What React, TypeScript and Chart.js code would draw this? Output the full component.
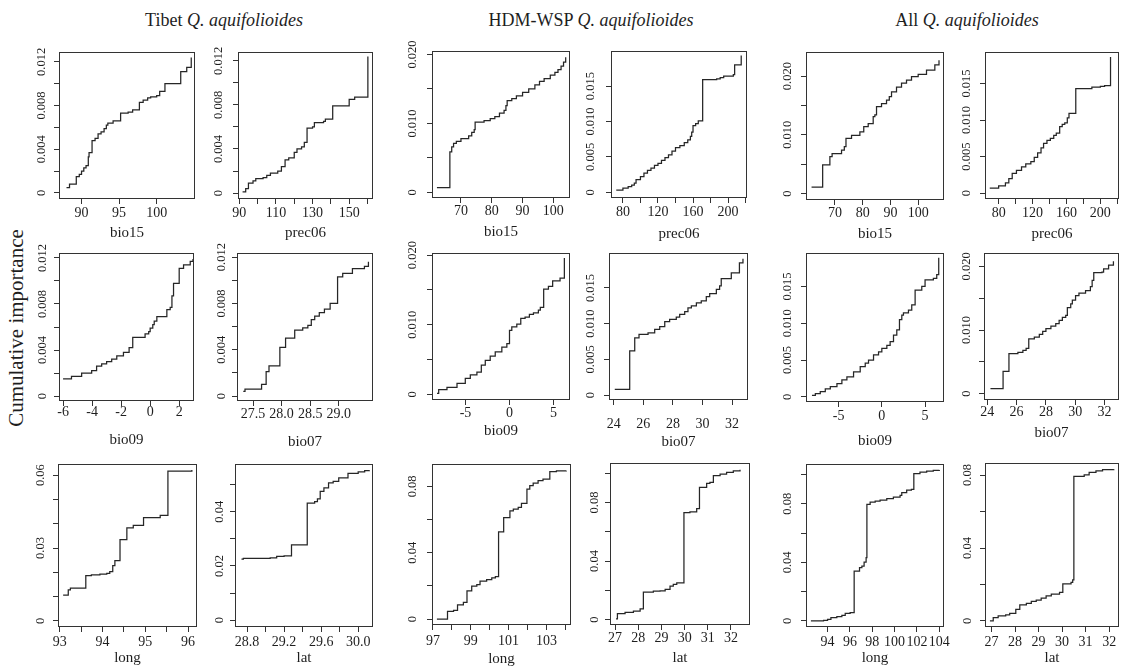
import React, { useEffect, useRef } from 'react';
import { Chart, registerables } from 'chart.js';

Chart.register(...registerables);

type Pt = [number, number];

// ---------------- series (x value where the step occurs, cumulative importance) ----------------
const tibetBio15: Pt[] = [[88.0,0.0005],[88.4,0.0008],[89.3,0.0015],[89.7,0.0017],[90.0,0.0020],[90.3,0.0023],[90.6,0.0025],[90.9,0.0033],[91.0,0.0037],[91.4,0.0048],[91.8,0.0050],[92.2,0.0054],[92.6,0.0056],[93.0,0.0059],[93.3,0.0062],[93.5,0.0064],[94.2,0.0066],[95.2,0.0073],[96.2,0.0074],[96.8,0.0076],[97.7,0.0083],[98.2,0.0085],[98.8,0.0087],[99.2,0.0088],[100.0,0.0089],[100.4,0.0093],[101.1,0.0100],[103.2,0.0111],[104.0,0.0115],[104.6,0.0124]];
const tibetPrec06: Pt[] = [[91.8,0.0001],[93.5,0.0004],[95,0.0009],[97.5,0.0011],[99,0.0013],[103,0.0014],[105,0.0016],[107,0.0018],[111,0.0020],[113,0.0024],[115,0.0030],[117,0.0032],[120,0.0037],[121.5,0.0040],[124,0.0042],[125.5,0.0046],[127,0.0059],[130,0.0060],[131,0.0064],[136,0.0065],[137,0.0067],[141,0.0079],[150,0.0085],[153,0.0087],[160.2,0.0124]];
const hdmBio15: Pt[] = [[62.2,0.0007],[66.4,0.0059],[67.0,0.0066],[67.6,0.0071],[68.5,0.0074],[70.0,0.0078],[72.5,0.0082],[73.5,0.0087],[74.3,0.0091],[74.6,0.0102],[77.5,0.0104],[79.5,0.0107],[81.0,0.0110],[82.5,0.0115],[84.0,0.0119],[84.6,0.0126],[85.0,0.0133],[86.5,0.0136],[88.0,0.0140],[90.0,0.0145],[92.0,0.0150],[94.0,0.0156],[95.5,0.0161],[97.0,0.0165],[99.0,0.0170],[100.5,0.0174],[101.5,0.0178],[102.5,0.0183],[103.3,0.0189],[104.0,0.0196]];
const hdmPrec06: Pt[] = [[72.4,0.0003],[80,0.0006],[86,0.0008],[90,0.0010],[93,0.0013],[95,0.0018],[100,0.0022],[104,0.0027],[108,0.0031],[112,0.0034],[116,0.0038],[120,0.0041],[124,0.0045],[128,0.0049],[132,0.0053],[136,0.0058],[140,0.0063],[145,0.0066],[150,0.0070],[154,0.0074],[157,0.0079],[158.5,0.0085],[160,0.0094],[163,0.0097],[166,0.0101],[171,0.0159],[187,0.0160],[191,0.0162],[195,0.0164],[206,0.0166],[207.5,0.0180],[215,0.0193]];
const allBio15: Pt[] = [[61.6,0.0011],[65.6,0.0049],[68.2,0.0063],[69.0,0.0068],[72.4,0.0074],[73.4,0.0080],[74.0,0.0094],[76.0,0.0099],[79.0,0.0105],[80.4,0.0114],[82.0,0.0119],[83.8,0.0131],[84.4,0.0134],[85.0,0.0148],[86.8,0.0153],[88.6,0.0159],[89.6,0.0165],[90.4,0.0173],[92.2,0.0181],[94.0,0.0188],[95.8,0.0193],[97.6,0.0199],[100.0,0.0203],[103.0,0.0210],[106.0,0.0219],[107.5,0.0227]];
const allPrec06: Pt[] = [[69.5,0.0007],[80,0.0010],[88,0.0014],[92,0.0020],[96,0.0027],[101,0.0031],[107,0.0036],[112,0.0040],[118,0.0043],[122,0.0049],[126,0.0055],[130,0.0062],[133,0.0068],[137,0.0072],[141,0.0075],[145,0.0079],[148,0.0082],[152,0.0091],[155,0.0094],[158,0.0096],[161,0.0103],[163,0.0109],[171,0.0143],[190,0.0145],[200,0.0146],[205,0.0147],[212,0.0186]];

const tibetBio09: Pt[] = [[-6.0,0.0015],[-5.42,0.0017],[-4.72,0.0020],[-4.03,0.0022],[-3.69,0.0026],[-3.34,0.0028],[-3.0,0.0030],[-2.65,0.0032],[-2.3,0.0035],[-1.84,0.0038],[-1.45,0.0042],[-1.2,0.0051],[-0.35,0.0054],[-0.1,0.0056],[0.0,0.0059],[0.18,0.0062],[0.28,0.0065],[0.46,0.0069],[1.15,0.0075],[1.38,0.0077],[1.5,0.0087],[1.61,0.0098],[2.0,0.0111],[2.3,0.0114],[2.76,0.0117],[2.95,0.0119]];
const tibetBio07: Pt[] = [[27.33,0.0004],[27.36,0.0006],[27.65,0.0010],[27.73,0.0021],[27.78,0.0026],[27.97,0.0042],[28.07,0.0050],[28.23,0.0057],[28.37,0.0059],[28.46,0.0061],[28.52,0.0066],[28.58,0.0069],[28.66,0.0072],[28.75,0.0075],[28.85,0.0080],[28.98,0.0103],[29.07,0.0106],[29.24,0.0110],[29.45,0.0112],[29.52,0.0116]];
const hdmBio09: Pt[] = [[-8.23,0.00014],[-8.04,0.0007],[-7.1,0.0010],[-5.96,0.0016],[-5.02,0.0023],[-4.45,0.0028],[-3.7,0.0032],[-3.2,0.0042],[-2.75,0.0049],[-2.19,0.0055],[-1.62,0.0061],[-0.87,0.0068],[-0.3,0.0073],[0.0,0.0092],[0.26,0.0097],[0.83,0.0101],[1.28,0.0109],[1.77,0.0111],[2.26,0.0115],[2.72,0.0117],[3.28,0.0121],[3.5,0.0125],[3.88,0.0151],[4.42,0.0155],[4.9,0.0163],[5.74,0.0167],[6.23,0.0196]];
const hdmBio07: Pt[] = [[24.07,0.0008],[25.08,0.0062],[25.42,0.0080],[25.71,0.0085],[26.32,0.0087],[26.77,0.0092],[27.11,0.0096],[27.45,0.0103],[27.78,0.0106],[28.23,0.0109],[28.46,0.0113],[28.8,0.0117],[29.02,0.0122],[29.25,0.0125],[29.59,0.0129],[29.92,0.0132],[30.26,0.0138],[30.49,0.0142],[30.94,0.0148],[31.16,0.0153],[31.27,0.0163],[31.95,0.0171],[32.5,0.0185],[32.74,0.0191]];
const allBio09: Pt[] = [[-8.08,0.0002],[-7.69,0.00045],[-7.12,0.0007],[-6.54,0.0011],[-5.96,0.0014],[-5.19,0.0018],[-4.62,0.0023],[-4.04,0.0027],[-3.27,0.0034],[-2.5,0.0041],[-1.92,0.0046],[-1.54,0.0050],[-0.96,0.0057],[-0.38,0.0061],[0.0,0.0066],[0.58,0.0070],[0.96,0.0075],[1.35,0.0084],[1.73,0.0091],[2.04,0.0105],[2.31,0.0111],[2.5,0.0114],[3.08,0.0118],[3.46,0.0125],[3.85,0.0145],[4.62,0.0150],[5.0,0.0159],[5.96,0.0161],[6.35,0.0166],[6.58,0.0189]];
const allBio07: Pt[] = [[24.22,0.0008],[25.08,0.0035],[25.48,0.0063],[26.09,0.0065],[26.43,0.0068],[26.65,0.0071],[26.83,0.0086],[27.21,0.0089],[27.55,0.0093],[27.78,0.0098],[28.0,0.0102],[28.34,0.0106],[28.67,0.0110],[28.9,0.0115],[29.12,0.0120],[29.35,0.0123],[29.46,0.0135],[29.69,0.0141],[29.8,0.0147],[30.02,0.0154],[30.25,0.0158],[30.7,0.0162],[31.03,0.0168],[31.15,0.0178],[31.26,0.0190],[31.82,0.0191],[31.93,0.0196],[32.27,0.0202],[32.6,0.0208]];

const tibetLong: Pt[] = [[93.08,0.0106],[93.2,0.0128],[93.25,0.0135],[93.61,0.0186],[93.74,0.0190],[93.94,0.0193],[94.1,0.0196],[94.17,0.0203],[94.24,0.0228],[94.29,0.0248],[94.41,0.0335],[94.57,0.0383],[94.72,0.0393],[94.96,0.0425],[95.35,0.0434],[95.53,0.0617],[96.09,0.0621]];
const tibetLat: Pt[] = [[28.74,0.0225],[28.76,0.0228],[29.05,0.0230],[29.12,0.0235],[29.2,0.0237],[29.28,0.0278],[29.45,0.0432],[29.53,0.0437],[29.56,0.0447],[29.59,0.0475],[29.63,0.0488],[29.68,0.0506],[29.73,0.0512],[29.79,0.0525],[29.89,0.0541],[30.0,0.0547],[30.07,0.0552],[30.12,0.0553]];
const hdmLong: Pt[] = [[97.21,0.0],[97.77,0.0046],[98.09,0.0052],[98.3,0.0085],[98.61,0.0101],[98.8,0.0170],[99.05,0.0198],[99.32,0.0208],[99.49,0.0228],[99.84,0.0238],[100.11,0.0248],[100.3,0.0255],[100.47,0.0525],[100.74,0.0612],[101.07,0.0653],[101.25,0.0663],[101.51,0.0673],[101.68,0.0697],[101.97,0.0784],[102.12,0.0804],[102.3,0.0820],[102.56,0.0834],[102.82,0.0844],[103.18,0.0889],[103.53,0.0893],[104.05,0.0895]];
const hdmLat: Pt[] = [[27.04,0.0005],[27.1,0.0041],[27.43,0.0050],[27.79,0.0057],[28.08,0.0073],[28.22,0.0187],[28.65,0.0194],[28.94,0.0197],[29.16,0.0206],[29.37,0.0229],[29.51,0.0240],[29.66,0.0251],[29.97,0.0731],[30.23,0.0736],[30.52,0.0759],[30.64,0.0903],[30.95,0.0930],[31.09,0.0937],[31.24,0.0983],[31.53,0.0994],[31.81,0.1006],[32.1,0.1017],[32.39,0.1024]];
const allLong: Pt[] = [[92.51,0.0],[93.64,0.0005],[94.0,0.0011],[94.3,0.0023],[94.83,0.0030],[95.28,0.0039],[95.58,0.0052],[96.02,0.0057],[96.38,0.0341],[96.86,0.0364],[97.07,0.0375],[97.27,0.0402],[97.45,0.0432],[97.52,0.0795],[97.81,0.0811],[98.26,0.0818],[98.7,0.0825],[99.3,0.0834],[99.89,0.0845],[100.49,0.0857],[100.64,0.0875],[101.08,0.0893],[101.5,0.0898],[101.72,0.1005],[102.27,0.1016],[102.87,0.1023],[103.46,0.1027],[104.0,0.1030]];
const allLat: Pt[] = [[26.93,0.0],[27.07,0.0018],[27.28,0.0028],[27.6,0.0033],[27.77,0.0042],[28.03,0.0064],[28.2,0.0088],[28.48,0.0096],[28.69,0.0107],[28.9,0.0114],[29.11,0.0125],[29.32,0.0138],[29.54,0.0147],[29.89,0.0157],[30.03,0.0203],[30.38,0.0212],[30.45,0.0225],[30.5,0.0792],[30.94,0.0801],[31.15,0.0814],[31.44,0.0823],[31.72,0.0829],[32.2,0.0832]];

// ---------------- tick values and tick labels ----------------
const yTicks012 = [0, 0.002, 0.004, 0.006, 0.008, 0.01, 0.012];
const yLabels012 = ['0', '', '0.004', '', '0.008', '', '0.012'];
const yTicks020 = [0, 0.005, 0.01, 0.015, 0.02];
const yLabels020 = ['0', '', '0.010', '', '0.020'];
const yTicks015 = [0, 0.005, 0.01, 0.015];
const yLabels015 = ['0', '0.005', '0.010', '0.015'];
const yTicks06 = [0, 0.01, 0.02, 0.03, 0.04, 0.05, 0.06];
const yLabels06 = ['0', '', '', '0.03', '', '', '0.06'];
const yTicks05 = [0, 0.01, 0.02, 0.03, 0.04, 0.05];
const yLabels05 = ['0', '', '0.02', '', '0.04', ''];
const yTicks08 = [0, 0.02, 0.04, 0.06, 0.08];
const yLabels08 = ['0', '', '0.04', '', '0.08'];
const yTicks10 = [0, 0.02, 0.04, 0.06, 0.08, 0.1];
const yLabels10 = ['0', '', '0.04', '', '0.08', ''];

const xTicksTibetBio15 = [90, 95, 100];
const xLabelsTibetBio15 = ['90', '95', '100'];
const xTicksTibetPrec06 = [90, 100, 110, 120, 130, 140, 150, 160];
const xLabelsTibetPrec06 = ['90', '', '110', '', '130', '', '150', ''];
const xTicksBio15 = [70, 80, 90, 100];
const xLabelsBio15 = ['70', '80', '90', '100'];
const xTicksPrec06 = [80, 100, 120, 140, 160, 180, 200, 220];
const xLabelsPrec06 = ['80', '', '120', '', '160', '', '200', ''];
const xTicksTibetBio09 = [-6, -4, -2, 0, 2];
const xLabelsTibetBio09 = ['-6', '-4', '-2', '0', '2'];
const xTicksTibetBio07 = [27.5, 28, 28.5, 29];
const xLabelsTibetBio07 = ['27.5', '28.0', '28.5', '29.0'];
const xTicksBio09 = [-5, 0, 5];
const xLabelsBio09 = ['-5', '0', '5'];
const xTicksBio07 = [24, 26, 28, 30, 32];
const xLabelsBio07 = ['24', '26', '28', '30', '32'];
const xTicksTibetLong = [93, 93.5, 94, 94.5, 95, 95.5, 96];
const xLabelsTibetLong = ['93', '', '94', '', '95', '', '96'];
const xTicksTibetLat = [28.8, 29.0, 29.2, 29.4, 29.6, 29.8, 30.0];
const xLabelsTibetLat = ['28.8', '', '29.2', '', '29.6', '', '30.0'];
const xTicksHdmLong = [97, 98, 99, 100, 101, 102, 103, 104];
const xLabelsHdmLong = ['97', '', '99', '', '101', '', '103', ''];
const xTicksLat = [27, 28, 29, 30, 31, 32];
const xLabelsLat = ['27', '28', '29', '30', '31', '32'];
const xTicksAllLong = [94, 96, 98, 100, 102, 104];
const xLabelsAllLong = ['94', '96', '98', '100', '102', '104'];

// ---------------- layout / style ----------------
const FAMILY = "'Liberation Serif', 'Times New Roman', serif";
const TEXT = '#1e1e1e';
const LINE = '#262626';
const FRAME = '#333333';
const L = 32, T = 14, R = 14, TICK_LEN = 5;
const X_TICK_SIZE = 14, Y_TICK_SIZE = 12.5, X_TITLE_SIZE = 15;

interface PanelSpec {
  data: Pt[]; xName: string;
  box: [number, number, number, number];
  xRange: [number, number]; yRange: [number, number];
  xTicks: number[]; xLabels: string[]; yTicks: number[]; yLabels: string[];
  xTickY: number; xNameY: number; yLabOff: number;
}

const panels: PanelSpec[] = [
  { data: tibetBio15, xName: 'bio15', box: [59, 52, 195, 199], xRange: [87.0, 105.1], yRange: [-0.00055, 0.0129], xTicks: xTicksTibetBio15, xLabels: xLabelsTibetBio15, yTicks: yTicks012, yLabels: yLabels012, xTickY: 213, xNameY: 233, yLabOff: 17 },
  { data: tibetPrec06, xName: 'prec06', box: [238, 52, 373, 199], xRange: [89.3, 163], yRange: [-0.00054, 0.0128], xTicks: xTicksTibetPrec06, xLabels: xLabelsTibetPrec06, yTicks: yTicks012, yLabels: yLabels012, xTickY: 213, xNameY: 233, yLabOff: 19 },
  { data: hdmBio15, xName: 'bio15', box: [432, 51, 570, 198], xRange: [60.6, 105.4], yRange: [-0.0008, 0.0205], xTicks: xTicksBio15, xLabels: xLabelsBio15, yTicks: yTicks020, yLabels: yLabels020, xTickY: 211, xNameY: 232, yLabOff: 19 },
  { data: hdmPrec06, xName: 'prec06', box: [611, 51, 747, 198], xRange: [66.4, 221.6], yRange: [-0.0008, 0.01995], xTicks: xTicksPrec06, xLabels: xLabelsPrec06, yTicks: yTicks015, yLabels: yLabels015, xTickY: 212, xNameY: 234, yLabOff: 20 },
  { data: allBio15, xName: 'bio15', box: [806, 52, 944, 200], xRange: [59.6, 109.3], yRange: [-0.0011, 0.0241], xTicks: xTicksBio15, xLabels: xLabelsBio15, yTicks: yTicks020, yLabels: yLabels020, xTickY: 213, xNameY: 234, yLabOff: 18 },
  { data: allPrec06, xName: 'prec06', box: [985, 52, 1119, 199], xRange: [63.9, 222], yRange: [-0.0008, 0.0193], xTicks: xTicksPrec06, xLabels: xLabelsPrec06, yTicks: yTicks015, yLabels: yLabels015, xTickY: 213, xNameY: 234, yLabOff: 18 },

  { data: tibetBio09, xName: 'bio09', box: [59, 253, 194, 401], xRange: [-6.28, 3.02], yRange: [-0.00043, 0.01243], xTicks: xTicksTibetBio09, xLabels: xLabelsTibetBio09, yTicks: yTicks012, yLabels: yLabels012, xTickY: 412, xNameY: 440, yLabOff: 16 },
  { data: tibetBio07, xName: 'bio07', box: [237, 253, 373, 401], xRange: [27.22, 29.6], yRange: [-0.00043, 0.01236], xTicks: xTicksTibetBio07, xLabels: xLabelsTibetBio07, yTicks: yTicks012, yLabels: yLabels012, xTickY: 414, xNameY: 442, yLabOff: 15 },
  { data: hdmBio09, xName: 'bio09', box: [432, 253, 570, 400], xRange: [-8.8, 6.87], yRange: [-0.0008, 0.0203], xTicks: xTicksBio09, xLabels: xLabelsBio09, yTicks: yTicks020, yLabels: yLabels020, xTickY: 413, xNameY: 431, yLabOff: 19 },
  { data: hdmBio07, xName: 'bio07', box: [609, 253, 748, 400], xRange: [23.68, 33.08], yRange: [-0.0007, 0.0199], xTicks: xTicksBio07, xLabels: xLabelsBio07, yTicks: yTicks015, yLabels: yLabels015, xTickY: 424, xNameY: 442, yLabOff: 18 },
  { data: allBio09, xName: 'bio09', box: [806, 253, 944, 402], xRange: [-8.77, 7.19], yRange: [-0.0007, 0.01955], xTicks: xTicksBio09, xLabels: xLabelsBio09, yTicks: yTicks015, yLabels: yLabels015, xTickY: 416, xNameY: 441, yLabOff: 18 },
  { data: allBio07, xName: 'bio07', box: [984, 253, 1119, 400], xRange: [23.78, 32.98], yRange: [-0.001, 0.0221], xTicks: xTicksBio07, xLabels: xLabelsBio07, yTicks: yTicks020, yLabels: yLabels020, xTickY: 412, xNameY: 433, yLabOff: 17 },

  { data: tibetLong, xName: 'long', box: [58, 464, 197, 627], xRange: [92.96, 96.21], yRange: [-0.0025, 0.0646], xTicks: xTicksTibetLong, xLabels: xLabelsTibetLong, yTicks: yTicks06, yLabels: yLabels06, xTickY: 642, xNameY: 658, yLabOff: 17 },
  { data: tibetLat, xName: 'lat', box: [235, 464, 373, 627], xRange: [28.67, 30.16], yRange: [-0.0025, 0.0576], xTicks: xTicksTibetLat, xLabels: xLabelsTibetLat, yTicks: yTicks05, yLabels: yLabels05, xTickY: 642, xNameY: 658, yLabOff: 15 },
  { data: hdmLong, xName: 'long', box: [432, 464, 571, 625], xRange: [96.95, 104.3], yRange: [-0.0036, 0.0935], xTicks: xTicksHdmLong, xLabels: xLabelsHdmLong, yTicks: yTicks08, yLabels: yLabels08, xTickY: 641, xNameY: 659, yLabOff: 19 },
  { data: hdmLat, xName: 'lat', box: [610, 463, 750, 625], xRange: [26.78, 32.82], yRange: [-0.0037, 0.107], xTicks: xTicksLat, xLabels: xLabelsLat, yTicks: yTicks10, yLabels: yLabels10, xTickY: 638, xNameY: 658, yLabOff: 15 },
  { data: allLong, xName: 'long', box: [806, 464, 944, 627], xRange: [92.07, 104.42], yRange: [-0.0041, 0.1071], xTicks: xTicksAllLong, xLabels: xLabelsAllLong, yTicks: yTicks10, yLabels: yLabels10, xTickY: 642, xNameY: 658, yLabOff: 18 },
  { data: allLat, xName: 'lat', box: [985, 463, 1119, 627], xRange: [26.72, 32.42], yRange: [-0.0033, 0.0866], xTicks: xTicksLat, xLabels: xLabelsLat, yTicks: yTicks08, yLabels: yLabels08, xTickY: 642, xNameY: 658, yLabOff: 17 },
];

const titles = [
  { pre: 'Tibet ', cx: 224 },
  { pre: 'HDM-WSP ', cx: 591 },
  { pre: 'All ', cx: 967 },
];

let measureCtx: CanvasRenderingContext2D | null = null;
function widest(labels: string[], font: string): number {
  if (!measureCtx) measureCtx = document.createElement('canvas').getContext('2d');
  if (!measureCtx) return 0;
  measureCtx.font = font;
  return labels.reduce((m, s) => Math.max(m, measureCtx!.measureText(s).width), 0);
}

const framePlugin = {
  id: 'rFrame',
  afterDatasetsDraw(chart: any) {
    const { ctx, chartArea: a } = chart;
    ctx.save();
    ctx.strokeStyle = FRAME;
    ctx.lineWidth = 1;
    ctx.strokeRect(a.left + 0.5, a.top + 0.5, a.right - a.left - 1, a.bottom - a.top - 1);
    ctx.restore();
  },
};

function geometry(p: PanelSpec) {
  const [bl, bt, br, bb] = p.box;
  const xAxisH = Math.round(p.xNameY + X_TITLE_SIZE * 0.6 - bb);
  return {
    left: bl - L,
    top: bt - T,
    w: L + (br - bl) + R,
    h: T + (bb - bt) + xAxisH,
    xAxisH,
    xTickPad: p.xTickY - bb - TICK_LEN - X_TICK_SIZE * 0.6,
  };
}

function Panel({ spec }: { spec: PanelSpec }) {
  const ref = useRef<HTMLCanvasElement>(null);
  const g = geometry(spec);
  useEffect(() => {
    const canvas = ref.current;
    if (!canvas) return;
    const yW = widest(spec.yLabels, `${Y_TICK_SIZE}px ${FAMILY}`);
    const yPad = spec.yLabOff - TICK_LEN - yW / 2;
    const gridOpts = { drawOnChartArea: false, drawTicks: true, tickLength: TICK_LEN, color: FRAME, lineWidth: 1 };
    const chart = new Chart(canvas, {
      type: 'line',
      data: {
        datasets: [{
          data: spec.data.map(([x, y]) => ({ x, y })),
          borderColor: LINE,
          borderWidth: 1.25,
          pointRadius: 0,
          stepped: true,
          fill: false,
          tension: 0,
        }],
      },
      options: {
        animation: false,
        responsive: false,
        devicePixelRatio: 1,
        events: [],
        layout: { padding: { left: 0, top: T, right: R, bottom: 0 } },
        plugins: { legend: { display: false }, tooltip: { enabled: false } },
        scales: {
          x: {
            type: 'linear',
            min: spec.xRange[0],
            max: spec.xRange[1],
            bounds: 'data',
            afterBuildTicks: (s: any) => { s.ticks = spec.xTicks.map((v) => ({ value: v })); },
            afterFit: (s: any) => { s.height = g.xAxisH; },
            grid: gridOpts,
            border: { display: false },
            ticks: {
              autoSkip: false,
              minRotation: 0,
              maxRotation: 0,
              padding: g.xTickPad,
              color: TEXT,
              font: { family: FAMILY, size: X_TICK_SIZE },
              callback: (_v: any, i: number) => spec.xLabels[i] ?? '',
            },
            title: {
              display: true,
              text: spec.xName,
              color: TEXT,
              font: { family: FAMILY, size: X_TITLE_SIZE },
              padding: { top: 0, bottom: 0 },
            },
          },
          y: {
            type: 'linear',
            min: spec.yRange[0],
            max: spec.yRange[1],
            bounds: 'data',
            afterBuildTicks: (s: any) => { s.ticks = spec.yTicks.map((v) => ({ value: v })); },
            afterFit: (s: any) => { s.width = L; },
            grid: gridOpts,
            border: { display: false },
            ticks: {
              autoSkip: false,
              minRotation: 90,
              maxRotation: 90,
              crossAlign: 'center',
              padding: yPad,
              color: TEXT,
              font: { family: FAMILY, size: Y_TICK_SIZE },
              callback: (_v: any, i: number) => spec.yLabels[i] ?? '',
            },
          },
        },
      } as any,
      plugins: [framePlugin],
    });
    return () => chart.destroy();
  }, []);
  return (
    <canvas
      ref={ref}
      width={g.w}
      height={g.h}
      style={{ position: 'absolute', left: g.left, top: g.top, width: g.w, height: g.h }}
    />
  );
}

export default function App() {
  return (
    <div style={{ position: 'absolute', left: 0, top: 0, width: 1121, height: 668, overflow: 'hidden', background: '#ffffff', fontFamily: FAMILY, color: TEXT }}>
      {titles.map((t) => (
        <div key={t.pre} style={{ position: 'absolute', left: t.cx - 200, top: 9, width: 400, textAlign: 'center', fontSize: 18, lineHeight: '22px' }}>
          {t.pre}<i>Q. aquifolioides</i>
        </div>
      ))}
      <div style={{ position: 'absolute', left: 16 - 150, top: 328 - 13, width: 300, height: 26, lineHeight: '26px', textAlign: 'center', fontSize: 21, transform: 'rotate(-90deg)' }}>
        Cumulative importance
      </div>
      {panels.map((p, i) => <Panel key={i} spec={p} />)}
    </div>
  );
}
